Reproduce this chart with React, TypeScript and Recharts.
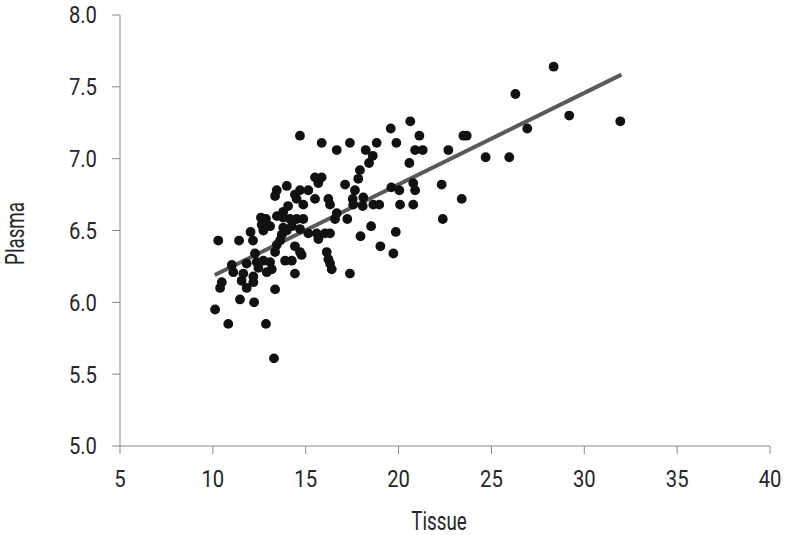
import React from 'react';
import { ScatterChart, Scatter, XAxis, YAxis, ReferenceLine } from 'recharts';

const tissue = [
  10.12, 10.29, 10.39, 10.48, 10.83, 11.02, 11.10, 11.41, 11.46, 11.64,
  11.55, 11.82, 11.82, 12.03, 12.16, 12.18, 12.18, 12.22, 12.27, 12.36,
  12.45, 12.59, 12.63, 12.72, 12.72, 12.86, 12.86, 12.90, 13.08, 13.08,
  13.17, 13.29, 13.35, 13.35, 13.44, 13.45, 13.35, 13.44, 13.62, 13.71,
  13.79, 13.79, 13.79, 13.98, 13.89, 13.98, 14.05, 14.15, 14.25, 14.25,
  14.42, 14.42, 14.51, 14.51, 14.42, 14.69, 14.69, 14.69, 14.69, 14.78,
  14.87, 14.87, 15.14, 15.14, 15.50, 15.50, 15.68, 15.86, 15.59, 15.68,
  15.86, 16.04, 16.13, 16.22, 16.22, 16.31, 16.31, 16.31, 16.40, 16.58,
  16.67, 16.67, 17.12, 17.24, 17.38, 17.38, 17.53, 17.65, 17.56, 17.83,
  17.92, 17.95, 18.07, 18.10, 18.23, 18.41, 18.61, 18.52, 18.64, 18.82,
  18.96, 19.02, 19.58, 19.61, 19.72, 19.85, 19.88, 20.04, 20.08, 20.58,
  20.63, 20.79, 20.89, 20.79, 20.89, 21.12, 21.30, 22.32, 22.38, 22.68,
  23.40, 23.49, 23.67, 24.69, 25.96, 26.29, 26.93, 28.35, 29.19, 31.94,
];

const plasma = [
  5.95, 6.43, 6.10, 6.14, 5.85, 6.26, 6.21, 6.43, 6.02, 6.20,
  6.15, 6.10, 6.27, 6.49, 6.43, 6.18, 6.14, 6.00, 6.34, 6.28,
  6.24, 6.59, 6.54, 6.50, 6.29, 6.58, 5.85, 6.21, 6.53, 6.28,
  6.23, 5.61, 6.09, 6.35, 6.40, 6.60, 6.74, 6.78, 6.43, 6.47,
  6.63, 6.59, 6.52, 6.50, 6.29, 6.81, 6.67, 6.58, 6.53, 6.29,
  6.20, 6.75, 6.72, 6.58, 6.39, 7.16, 6.78, 6.51, 6.35, 6.33,
  6.68, 6.58, 6.78, 6.48, 6.72, 6.87, 6.83, 6.87, 6.48, 6.44,
  7.11, 6.48, 6.35, 6.30, 6.72, 6.68, 6.48, 6.27, 6.23, 6.58,
  6.62, 7.06, 6.82, 6.58, 7.11, 6.20, 6.72, 6.78, 6.68, 6.86,
  6.92, 6.46, 6.67, 6.73, 7.06, 6.97, 7.02, 6.53, 6.68, 7.11,
  6.68, 6.39, 7.21, 6.80, 6.34, 6.49, 7.11, 6.78, 6.68, 6.97,
  7.26, 6.83, 6.78, 6.68, 7.06, 7.16, 7.06, 6.82, 6.58, 7.06,
  6.72, 7.16, 7.16, 7.01, 7.01, 7.45, 7.21, 7.64, 7.30, 7.26,
];

const xTicks = [5, 10, 15, 20, 25, 30, 35, 40];
const yTicks = [5.0, 5.5, 6.0, 6.5, 7.0, 7.5, 8.0];

const xTitle = 'Tissue';
const yTitle = 'Plasma';

const fitTissue = [10.1, 32.0];
const fitPlasma = [6.19, 7.585];

const points = tissue.map((x, i) => ({ x, y: plasma[i] }));

const FONT = "Roboto, 'Liberation Sans', sans-serif";
const TEXT = '#262626';

const Dot = (props: any) => <circle cx={props.cx} cy={props.cy} r={4.9} fill="#111" />;

const XTick = (props: any) => (
  <text transform={`translate(${props.x},${props.y}) scale(0.92,1.06)`} dy="0.71em" textAnchor="middle" fill={TEXT} fontSize={22} fontFamily={FONT}>
    {props.payload.value}
  </text>
);

const YTick = (props: any) => (
  <text transform={`translate(${props.x},${props.y}) scale(0.92,1.06)`} dy="0.36em" textAnchor="end" fill={TEXT} fontSize={22} fontFamily={FONT}>
    {Number(props.payload.value).toFixed(1)}
  </text>
);

const XTitle = (props: any) => {
  const vb = props.viewBox || {};
  const cx = vb.x + vb.width / 2 - 6;
  const by = vb.y + vb.height - 5;
  return (
    <text transform={`translate(${cx},${by}) scale(0.75,1)`} textAnchor="middle" fill={TEXT} fontSize={25} fontFamily={FONT}>
      {xTitle}
    </text>
  );
};

const YTitle = (props: any) => {
  const vb = props.viewBox || {};
  const cx = vb.x + 15;
  const cy = vb.y + vb.height / 2 + 3;
  return (
    <text transform={`translate(${cx},${cy}) rotate(-90) scale(0.75,1)`} textAnchor="middle" dy="0.36em" fill={TEXT} fontSize={25} fontFamily={FONT}>
      {yTitle}
    </text>
  );
};

export default function App() {
  return (
    <div style={{ position: 'absolute', left: 0, top: 0, width: 785, height: 535, background: '#fff' }}>
      <ScatterChart width={785} height={535} margin={{ top: 15, right: 15, bottom: 0, left: 0 }}>
        <XAxis
          type="number"
          dataKey="x"
          domain={[5, 40]}
          ticks={xTicks}
          interval={0}
          height={89}
          tickSize={8}
          tickMargin={16}
          stroke="#888"
          tick={<XTick />}
          label={{ content: <XTitle /> }}
        />
        <YAxis
          type="number"
          dataKey="y"
          domain={[5, 8]}
          ticks={yTicks}
          interval={0}
          width={120}
          tickSize={8}
          tickMargin={15}
          stroke="#888"
          tick={<YTick />}
          label={{ content: <YTitle /> }}
        />
        <Scatter data={points} shape={Dot} isAnimationActive={false} />
        <ReferenceLine
          segment={[{ x: fitTissue[0], y: fitPlasma[0] }, { x: fitTissue[1], y: fitPlasma[1] }]}
          stroke="#5a5a5a"
          strokeWidth={4}
        />
      </ScatterChart>
    </div>
  );
}
